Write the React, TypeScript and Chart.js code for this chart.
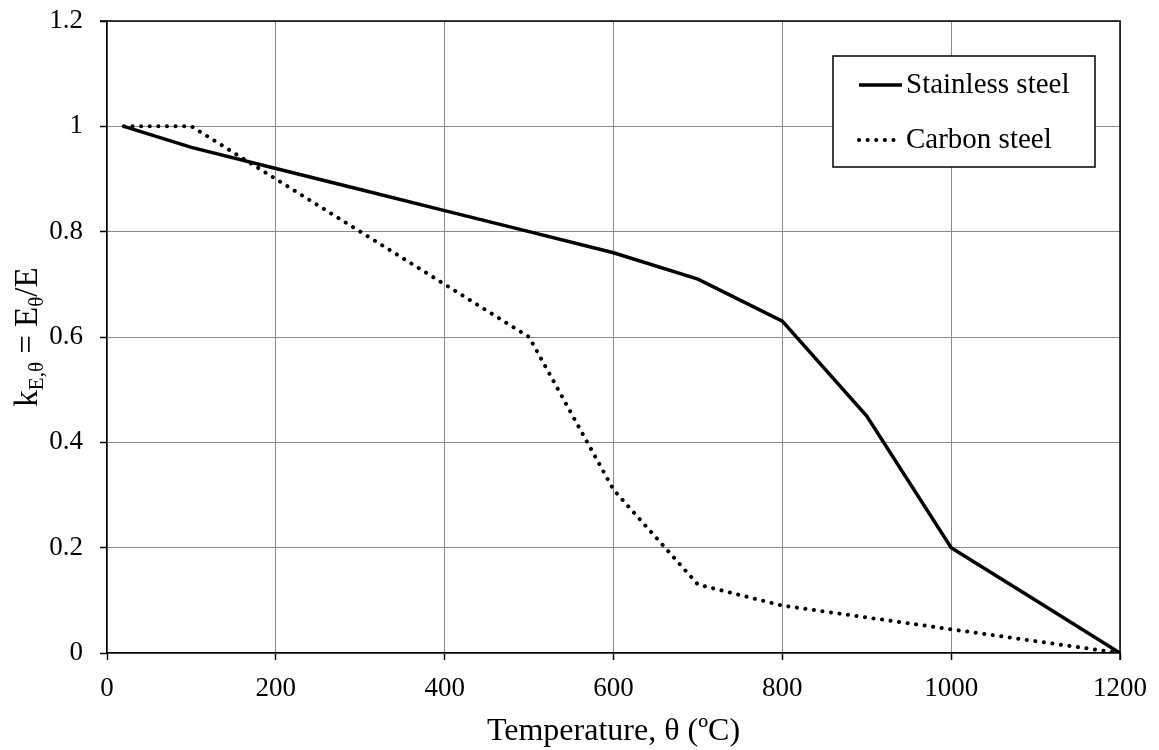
import React, { useEffect, useRef } from "react";
import { Chart, registerables } from "chart.js";

Chart.register(...registerables);

const temperatures = [20, 100, 200, 300, 400, 500, 600, 700, 800, 900, 1000, 1100, 1200];
const stainless = [1.0, 0.96, 0.92, 0.88, 0.84, 0.8, 0.76, 0.71, 0.63, 0.45, 0.2, 0.1, 0.0];
const carbon = [1.0, 1.0, 0.9, 0.8, 0.7, 0.6, 0.31, 0.13, 0.09, 0.0675, 0.045, 0.0225, 0.0];
const seriesNames = ["Stainless steel", "Carbon steel"];
const xTitle = "Temperature, θ (ºC)";

const FONT = "'Liberation Serif', 'Times New Roman', serif";

const framePlugin = {
  id: "frameAndLabels",
  afterDraw(chart: any) {
    const { ctx, chartArea } = chart;
    const { left, right, top, bottom } = chartArea;
    ctx.save();
    // top & right border
    ctx.strokeStyle = "#000";
    ctx.lineWidth = 1.5;
    ctx.beginPath();
    ctx.moveTo(left - 7, top);
    ctx.lineTo(right, top);
    ctx.lineTo(right, bottom + 7);
    ctx.stroke();

    // x title
    ctx.fillStyle = "#000";
    ctx.font = `32px ${FONT}`;
    ctx.textAlign = "center";
    ctx.textBaseline = "alphabetic";
    ctx.fillText(xTitle, (left + right) / 2, 740);

    // y title with subscripts
    const big = `33px ${FONT}`;
    const small = `21px ${FONT}`;
    const parts: [string, boolean][] = [
      ["k", false],
      ["E,θ", true],
      [" = E", false],
      ["θ", true],
      ["/E", false],
    ];
    let total = 0;
    for (const [t, sub] of parts) {
      ctx.font = sub ? small : big;
      total += ctx.measureText(t).width;
    }
    ctx.translate(37, (top + bottom) / 2);
    ctx.rotate(-Math.PI / 2);
    ctx.textAlign = "left";
    let x = -total / 2;
    for (const [t, sub] of parts) {
      ctx.font = sub ? small : big;
      ctx.fillText(t, x, sub ? 6 : 0);
      x += ctx.measureText(t).width;
    }
    ctx.restore();

    // legend
    ctx.save();
    const bx = 833, by = 56, bw = 262, bh = 111;
    ctx.fillStyle = "#fff";
    ctx.fillRect(bx, by, bw, bh);
    ctx.strokeStyle = "#000";
    ctx.lineWidth = 1.5;
    ctx.strokeRect(bx, by, bw, bh);
    const rows = [85, 140];
    chart.data.datasets.forEach((ds: any, i: number) => {
      const y = rows[i];
      ctx.beginPath();
      ctx.strokeStyle = ds.borderColor;
      ctx.lineWidth = ds.borderWidth;
      ctx.lineCap = ds.borderCapStyle || "butt";
      ctx.setLineDash(ds.borderDash || []);
      ctx.moveTo(859, y);
      ctx.lineTo(902, y);
      ctx.stroke();
      ctx.setLineDash([]);
      ctx.fillStyle = "#000";
      ctx.font = `29px ${FONT}`;
      ctx.textAlign = "left";
      ctx.textBaseline = "middle";
      ctx.fillText(ds.label, 906, y);
    });
    ctx.restore();
  },
};

export default function App() {
  const ref = useRef<HTMLCanvasElement>(null);
  useEffect(() => {
    if (!ref.current) return;
    const chart = new Chart(ref.current, {
      type: "line",
      data: {
        datasets: [
          {
            label: seriesNames[0],
            data: temperatures.map((t, i) => ({ x: t, y: stainless[i] })),
            borderColor: "#000",
            borderWidth: 3.5,
            pointRadius: 0,
            tension: 0,
          },
          {
            label: seriesNames[1],
            data: temperatures.map((t, i) => ({ x: t, y: carbon[i] })),
            borderColor: "#000",
            borderWidth: 4,
            borderDash: [0.1, 8.5],
            borderCapStyle: "round",
            pointRadius: 0,
            tension: 0,
          },
        ],
      },
      options: {
        animation: false,
        responsive: false,
        layout: { padding: { top: 21, right: 39, left: 0, bottom: 0 } },
        plugins: { legend: { display: false }, tooltip: { enabled: false } },
        scales: {
          x: {
            type: "linear",
            min: 0,
            max: 1200,
            ticks: {
              stepSize: 200,
              color: "#000",
              font: { family: FONT, size: 27 },
              padding: 13,
              maxRotation: 0,
              callback: (v: any) => String(v),
            },
            grid: { color: "#8a8a8a", lineWidth: 1, tickColor: "#000", tickLength: 7, tickWidth: 1.5 },
            border: { color: "#000", width: 1.5 },
            afterFit: (s: any) => {
              s.height = 97;
              s.paddingLeft = 0;
              s.paddingRight = 0;
            },
          },
          y: {
            min: 0,
            max: 1.2,
            ticks: {
              stepSize: 0.2,
              color: "#000",
              font: { family: FONT, size: 27 },
              padding: 17,
              callback: (v: any) => String(Math.round(Number(v) * 10) / 10),
            },
            grid: { color: "#8a8a8a", lineWidth: 1, tickColor: "#000", tickLength: 7, tickWidth: 1.5 },
            border: { color: "#000", width: 1.5 },
            afterFit: (s: any) => {
              s.width = 107;
              s.paddingTop = 0;
              s.paddingBottom = 0;
            },
          },
        },
      },
      plugins: [framePlugin],
    });
    return () => chart.destroy();
  }, []);
  return (
    <div style={{ position: "fixed", left: 0, top: 0, width: 1159, height: 750, background: "#fff" }}>
      <canvas ref={ref} width={1159} height={750} />
    </div>
  );
}
